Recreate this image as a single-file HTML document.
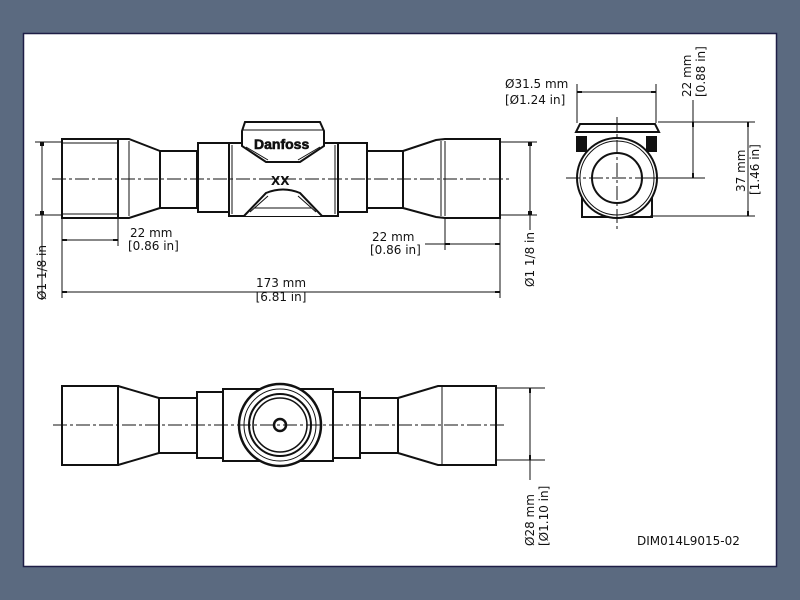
<!DOCTYPE html>
<html><head><meta charset="utf-8"><style>
html,body{margin:0;padding:0;background:#5b6a80;width:800px;height:600px;overflow:hidden}
svg{display:block}
text{font-family:"DejaVu Sans","Liberation Sans",sans-serif;font-size:12px;fill:#111}
</style></head><body>
<svg width="800" height="600" viewBox="0 0 800 600" xmlns="http://www.w3.org/2000/svg">
<rect x="23.5" y="33.5" width="753" height="533" fill="#fff" stroke="#1e1e46" stroke-width="1.5"/>
<g fill="none" stroke="#111" stroke-width="2">
<!-- TOP VIEW -->
<rect x="62" y="139" width="56" height="79"/>
<line x1="62" y1="143" x2="118" y2="143" stroke-width="1"/>
<line x1="62" y1="214" x2="118" y2="214" stroke-width="1"/>
<path d="M118 139 L129 139 L160 151 L160 208 L129 218 L118 218"/>
<line x1="129" y1="141" x2="129" y2="216" stroke-width="1"/>
<rect x="160" y="151" width="37" height="57"/>
<rect x="198" y="143" width="31" height="69"/>
<rect x="229" y="143" width="109" height="73"/>
<line x1="232" y1="145" x2="232" y2="214" stroke-width="1"/>
<line x1="335" y1="145" x2="335" y2="214" stroke-width="1"/>
<path d="M245 122 L320 122 L324 131 L324 146 L300 162 L266 162 L242 146 L242 131 Z" fill="#fff"/>
<line x1="243" y1="130" x2="323" y2="130" stroke-width="1"/>
<path d="M246 147 L268 160 M320 147 L298 160" stroke-width="1"/>
<path d="M244 216 L266 193 Q283 186 300 193 L322 216" fill="#fff"/>
<path d="M250 212 L268 196 M316 212 L298 196 M254 208 L312 208" stroke-width="1"/>
<rect x="338" y="143" width="29" height="69"/>
<rect x="367" y="151" width="36" height="57"/>
<path d="M403 151 L436 140 L445 139 L500 139 L500 218 L445 218 L436 217 L403 208"/>
<line x1="441" y1="141" x2="441" y2="216" stroke-width="1"/>
<line x1="445" y1="141" x2="445" y2="216" stroke-width="1"/>
<!-- SIDE VIEW -->
<path d="M580 124 L655 124 L659 132 L576 132 Z" fill="#fff"/>
<path d="M582 196 L582 217 L652 217 L652 196" />
<circle cx="617" cy="178" r="40" fill="#fff"/>
<circle cx="617" cy="178" r="37" stroke-width="1"/>
<circle cx="617" cy="178" r="25"/>
<rect x="577" y="137" width="9" height="14" fill="#111"/>
<rect x="647" y="137" width="9" height="14" fill="#111"/>
<!-- BOTTOM VIEW -->
<rect x="62" y="386" width="56" height="79"/>
<path d="M118 386 L159 398 L159 453 L118 465"/>
<rect x="159" y="398" width="38" height="55"/>
<rect x="197" y="392" width="26" height="66"/>
<rect x="223" y="389" width="110" height="72"/>
<rect x="333" y="392" width="27" height="66"/>
<rect x="360" y="398" width="38" height="55"/>
<path d="M398 398 L438 386 L496 386 L496 465 L438 465 L398 453"/>
<line x1="442" y1="386" x2="442" y2="465" stroke-width="1"/>
<circle cx="280" cy="425" r="41" fill="#fff" stroke-width="2.5"/>
<circle cx="280" cy="425" r="36" stroke-width="1"/>
<circle cx="280" cy="425" r="31" stroke-width="2"/>
<circle cx="280" cy="425" r="27" stroke-width="1.5"/>
<circle cx="280" cy="425" r="6" stroke-width="2.5"/>
</g>
<g stroke="#111" stroke-width="1" fill="none" stroke-dasharray="14 3 3 3">
<line x1="52" y1="179" x2="512" y2="179"/>
<line x1="566" y1="178" x2="668" y2="178"/>
<line x1="617" y1="117" x2="617" y2="230"/>
<line x1="53" y1="425" x2="505" y2="425"/>
</g>
<g stroke="#111" stroke-width="1" fill="none">
<line x1="35" y1="142" x2="62" y2="142"/><line x1="35" y1="215" x2="62" y2="215"/>
<line x1="42" y1="142" x2="42" y2="215"/>
<line x1="42" y1="215" x2="42" y2="300"/>
<line x1="62" y1="218" x2="62" y2="298"/><line x1="118" y1="218" x2="118" y2="246"/>
<line x1="62" y1="240" x2="118" y2="240"/>
<line x1="62" y1="292" x2="500" y2="292"/>
<line x1="500" y1="218" x2="500" y2="298"/><line x1="445" y1="218" x2="445" y2="250"/>
<line x1="445" y1="244" x2="500" y2="244"/><line x1="425" y1="244" x2="445" y2="244"/>
<line x1="500" y1="142" x2="537" y2="142"/><line x1="500" y1="215" x2="537" y2="215"/>
<line x1="530" y1="142" x2="530" y2="215"/><line x1="530" y1="215" x2="530" y2="230"/>
<line x1="577" y1="84" x2="577" y2="123"/><line x1="656" y1="84" x2="656" y2="123"/>
<line x1="577" y1="92" x2="656" y2="92"/>
<line x1="658" y1="122" x2="755" y2="122"/><line x1="640" y1="178" x2="705" y2="178"/>
<line x1="650" y1="216" x2="755" y2="216"/>
<line x1="693" y1="100" x2="693" y2="178"/>
<line x1="748" y1="122" x2="748" y2="216"/>
<line x1="496" y1="388" x2="545" y2="388"/><line x1="496" y1="460" x2="545" y2="460"/>
<line x1="530" y1="388" x2="530" y2="480"/>
</g>
<g fill="#111">
<rect x="40" y="142" width="4" height="4"/><rect x="40" y="211" width="4" height="4"/>
<rect x="62" y="239" width="5" height="2"/><rect x="113" y="239" width="5" height="2"/>
<rect x="62" y="291" width="5" height="2"/><rect x="495" y="291" width="5" height="2"/>
<rect x="445" y="243" width="5" height="2"/><rect x="495" y="243" width="5" height="2"/>
<rect x="528" y="142" width="4" height="4"/><rect x="528" y="211" width="4" height="4"/>
<rect x="577" y="91" width="5" height="2"/><rect x="651" y="91" width="5" height="2"/>
<rect x="692" y="122" width="2" height="5"/><rect x="692" y="173" width="2" height="5"/>
<rect x="747" y="122" width="2" height="5"/><rect x="747" y="211" width="2" height="5"/>
<rect x="529" y="388" width="2" height="5"/><rect x="529" y="455" width="2" height="5"/>
</g>
<text x="254" y="149" style="font-family:'Liberation Sans',sans-serif;font-weight:bold;font-size:14px;stroke:#111;stroke-width:0.6">Danfoss</text>
<text x="271" y="185" style="font-family:'DejaVu Sans',sans-serif;font-weight:bold;font-size:12px">XX</text>
<text x="130" y="237">22 mm</text><text x="128" y="250">[0.86 in]</text>
<text x="372" y="241">22 mm</text><text x="370" y="254">[0.86 in]</text>
<text x="281" y="287" text-anchor="middle">173 mm</text><text x="281" y="301" text-anchor="middle">[6.81 in]</text>
<text transform="translate(46,300) rotate(-90)">Ø1 1/8 in</text>
<text transform="translate(534,287) rotate(-90)">Ø1 1/8 in</text>
<text x="505" y="88">Ø31.5 mm</text><text x="505" y="104">[Ø1.24 in]</text>
<text transform="translate(691,97) rotate(-90)">22 mm</text>
<text transform="translate(705,97) rotate(-90)">[0.88 in]</text>
<text transform="translate(745,192) rotate(-90)">37 mm</text>
<text transform="translate(759,195) rotate(-90)">[1.46 in]</text>
<text transform="translate(534,546) rotate(-90)">Ø28 mm</text>
<text transform="translate(548,546) rotate(-90)">[Ø1.10 in]</text>
<text x="637" y="545">DIM014L9015-02</text>
</svg>
</body></html>
